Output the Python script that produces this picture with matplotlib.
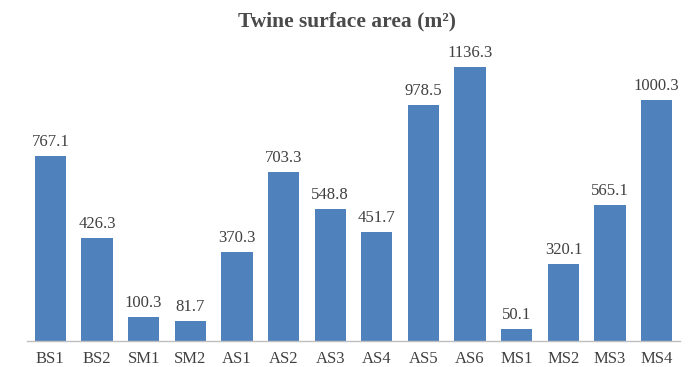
import matplotlib
matplotlib.use("Agg")
import matplotlib.pyplot as plt

categories = ["BS1", "BS2", "SM1", "SM2", "AS1", "AS2", "AS3",
              "AS4", "AS5", "AS6", "MS1", "MS2", "MS3", "MS4"]
area = [767.1, 426.3, 100.3, 81.7, 370.3, 703.3, 548.8,
        451.7, 978.5, 1136.3, 50.1, 320.1, 565.1, 1000.3]

plt.rcParams['font.family'] = ['Liberation Serif', 'DejaVu Serif']

fig = plt.figure(figsize=(6.94, 3.67), dpi=100)
ax = fig.add_axes([27 / 694, 1 - 341 / 367, 653 / 694, 289 / 367])

x = range(len(categories))
bars = ax.bar(x, area, width=0.67, color="#4f81bd")
for xi, v in zip(x, area):
    ax.text(xi, v + 25, f"{v:.1f}", ha="center", va="bottom",
            fontsize=12, color="#404040")

ax.set_xlim(-0.5, len(categories) - 0.5)
ax.set_ylim(0, 1200)
ax.set_xticks(list(x))
ax.set_xticklabels(categories, fontsize=12, color="#404040")
ax.tick_params(axis="x", length=0, pad=7)
ax.set_yticks([])
for s in ["top", "right", "left"]:
    ax.spines[s].set_visible(False)
ax.spines["bottom"].set_color("#bfbfbf")
ax.spines["bottom"].set_linewidth(1.0)

fig.text(0.5, 1 - 21 / 367, "Twine surface area (m²)", ha="center", va="center",
         fontsize=15.5, fontweight="bold", color="#4a4a4a")

fig.savefig("out.png", dpi=100)
